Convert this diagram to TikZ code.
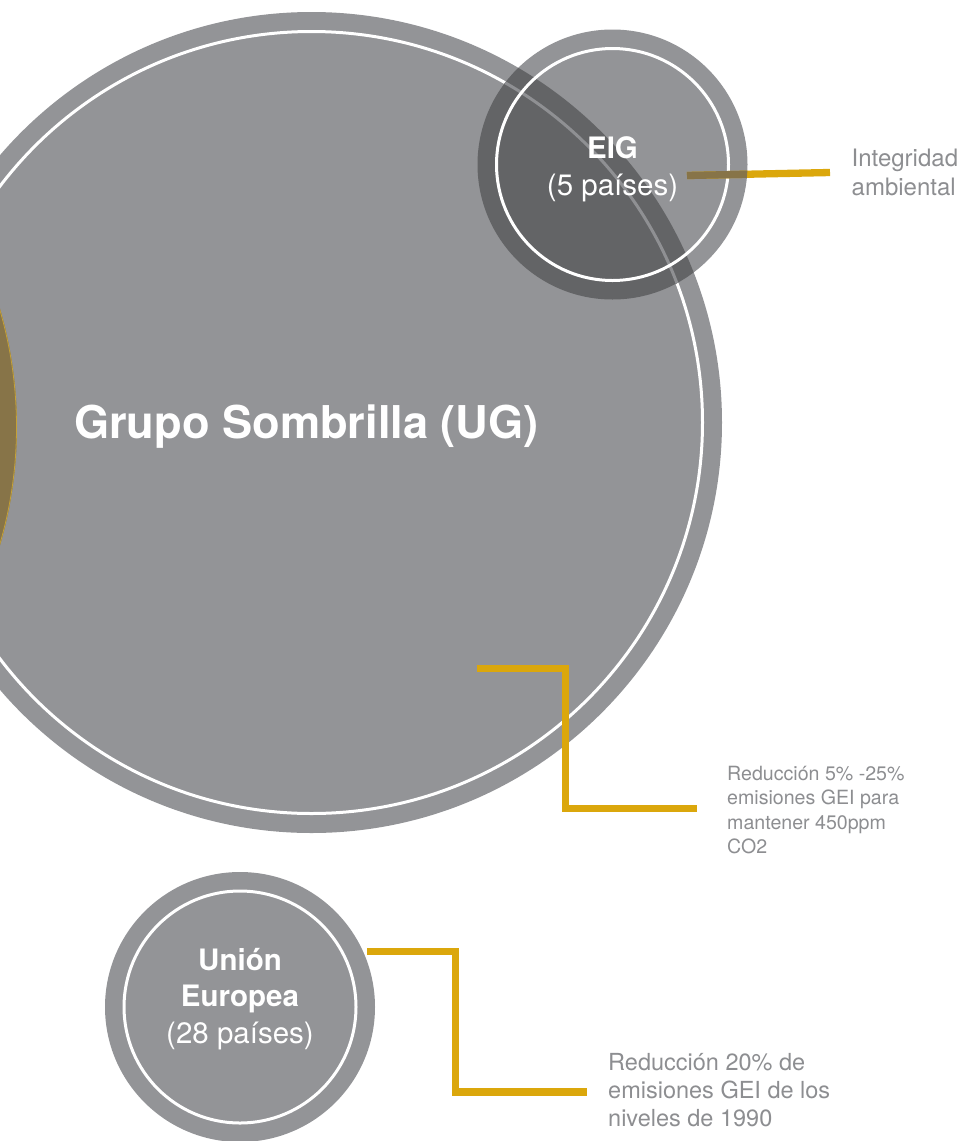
\documentclass[tikz,border=0pt]{standalone}
\usepackage{fontspec}
\setmainfont{TeX Gyre Heros}
\definecolor{ringgray}{HTML}{939497}
\definecolor{overlap}{HTML}{636466}
\definecolor{linegold}{HTML}{DBA70C}
\definecolor{mixbrown}{HTML}{877448}
\definecolor{labelgray}{HTML}{8D8E91}
\definecolor{fadedwhite}{HTML}{8F9093}
\tikzset{
  disc/.style={circle, fill=ringgray, draw=none, inner sep=0pt, outer sep=0pt},
  whitering/.style={draw=white, line width=3pt},
  leader/.style={draw=linegold, line width=7.3pt, line join=miter, line cap=butt},
  titletext/.style={text=white, font=\bfseries\fontsize{29.5}{30}\selectfont, anchor=base, inner sep=0pt},
  subtext/.style={text=white, font=\fontsize{29.5}{30}\selectfont, anchor=base, inner sep=0pt},
  labeltext/.style={text=labelgray, anchor=base west, inner sep=0pt}
}
\begin{document}
\begin{tikzpicture}[x=1pt,y=-1pt]
\useasboundingbox (0,0) rectangle (964,1141);
\begin{scope}
\clip (0,0) rectangle (964,1141);
% Grupo Sombrilla
\node[disc, minimum size=821pt] (ug) at (311.5,422.5) {};
\draw[whitering] (ug.center) circle (391pt);
\begin{scope}
  \clip (ug.center) circle (410.5pt);
  \fill[mixbrown] (-401,427) circle (418pt);
  \draw[linegold!70!ringgray, line width=0.8pt] (-401,427) circle (417.5pt);
\end{scope}
% EIG
\node[disc, minimum size=270pt] (eig) at (612.5,164.5) {};
\begin{scope}
  \clip (ug.center) circle (410.5pt);
  \fill[overlap] (eig.center) circle (135pt);
\end{scope}
\begin{scope}
  \clip (eig.center) circle (135pt);
  \draw[fadedwhite, line width=3pt] (ug.center) circle (391pt);
\end{scope}
\draw[whitering] (eig.center) circle (116pt);
% Union Europea
\node[disc, minimum size=270pt] (eu) at (240,1007) {};
\draw[whitering] (eu.center) circle (116pt);
\end{scope}

% connectors
\coordinate (eigA) at (687,175.5);
\coordinate (eigB) at (830,172.5);
\draw[leader] (eigA) -- (eigB);
\begin{scope}
  \clip (eig.center) circle (135pt);
  \draw[leader, draw=mixbrown] (eigA) -- (eigB);
\end{scope}

\coordinate (ugA) at (477,668.7);
\coordinate (ugB) at (697.3,808.7);
\draw[leader] (ugA) -- (565.3,668.7) -- (565.3,808.7) -- (ugB);

\coordinate (euA) at (367,951.3);
\coordinate (euB) at (587.3,1092);
\draw[leader] (euA) -- (455.3,951.3) -- (455.3,1092) -- (euB);

% texts
\node[text=white, font=\bfseries\fontsize{45.2}{45}\selectfont, anchor=base, inner sep=0pt] (ugtitle) at (306.5,438.3) {Grupo Sombrilla (UG)};

\node[titletext] (eigtitle) at (612.5,158.3) {EIG};
\node[subtext] (eigsub) at (612.5,195) {(5 países)};

\node[titletext] (eut1) at (240,970) {Unión};
\node[titletext] (eut2) at (240,1006.7) {Europea};
\node[subtext] (eusub) at (240,1043) {(28 países)};

\node[labeltext, font=\fontsize{24}{24}\selectfont] (int1) at (851.5,166.7) {Integridad};
\node[labeltext, font=\fontsize{24}{24}\selectfont] (int2) at (851.5,195.2) {ambiental};

\node[labeltext, font=\fontsize{19.6}{20}\selectfont] (red1) at (727,780) {Reducción 5\% -25\%};
\node[labeltext, font=\fontsize{19.6}{20}\selectfont] (red2) at (727,804.5) {emisiones GEI para};
\node[labeltext, font=\fontsize{19.6}{20}\selectfont] (red3) at (727,829) {mantener 450ppm};
\node[labeltext, font=\fontsize{19.6}{20}\selectfont] (red4) at (727,853.5) {CO2};

\node[labeltext, font=\fontsize{23.5}{24}\selectfont] (eur1) at (608,1070) {Reducción 20\% de};
\node[labeltext, font=\fontsize{23.5}{24}\selectfont] (eur2) at (608,1098) {emisiones GEI de los};
\node[labeltext, font=\fontsize{23.5}{24}\selectfont] (eur3) at (608,1126) {niveles de 1990};
\end{tikzpicture}
\end{document}
